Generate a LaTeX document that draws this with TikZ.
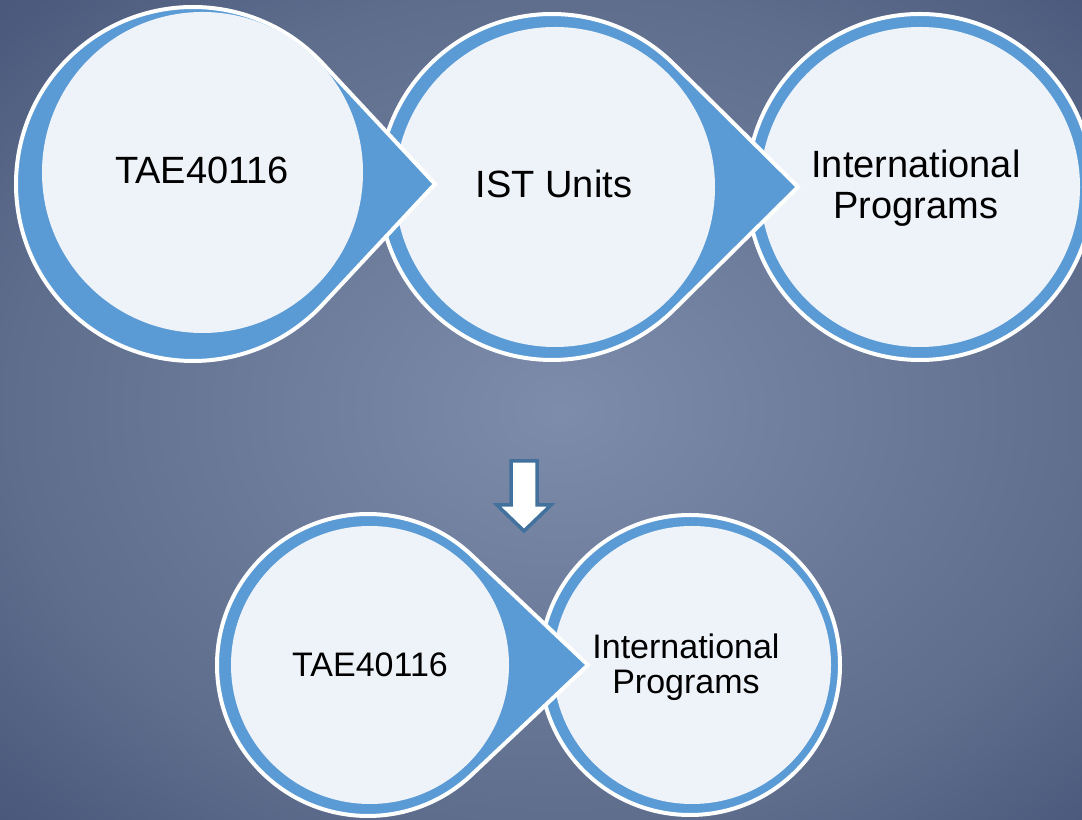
\documentclass[tikz,border=0pt]{standalone}
\usepackage{fontspec}
\setmainfont{Liberation Sans}
\definecolor{bgc}{HTML}{7D8CAB}
\definecolor{bgm}{HTML}{5E6D8C}
\definecolor{bge}{HTML}{48577A}
\definecolor{ringblue}{HTML}{5B9BD5}
\definecolor{lightfill}{HTML}{EEF3FA}
\definecolor{arrowline}{HTML}{41719C}
\pgfdeclareradialshading{bgshade}{\pgfpoint{0bp}{0bp}}{color(0bp)=(bgc); color(17.5bp)=(bgm); color(25bp)=(bge); color(50bp)=(bge)}
\newcommand\tdrop[4]{% cx cy R d
  \pgfmathsetmacro\tdth{acos(#3/#4)}
  \filldraw[ringpath] (#1+#4,#2) -- ({#1+#3*cos(\tdth)},{#2+#3*sin(\tdth)})
    arc[start angle=\tdth, end angle=360-\tdth, radius=#3 bp] -- cycle;}
\begin{document}
\begin{tikzpicture}[x=1bp,y=1bp,
  ringpath/.style={draw=white, line width=4bp, fill=ringblue, line join=miter},
  disc/.style={circle, fill=lightfill, draw=none, inner sep=0pt},
  bigtxt/.style={inner sep=0pt, align=center, text=black, font=\fontsize{38bp}{41bp}\selectfont},
  smalltxt/.style={inner sep=0pt, align=center, text=black, font=\fontsize{34bp}{35bp}\selectfont},
  downarrow/.style={draw=arrowline, fill=white, line width=3.5bp, line join=miter}]
\useasboundingbox (0,0) rectangle (1082,820);
\begin{scope}
  \clip (0,0) rectangle (1082,820);
  \fill[bge] (0,0) rectangle (1082,820);
  \shade[shading=bgshade] (560,410) ellipse [x radius=790bp, y radius=600bp];

  % top row: circle 3
  \filldraw[ringpath] (920,633) circle[radius=173bp];
  \node[disc, minimum size=320bp] (d3) at (920,633) {};
  % circle 2
  \tdrop{552}{633}{173}{246}
  \node[disc, minimum size=320bp] (d2) at (555,633) {};
  % circle 1
  \tdrop{193}{636}{177}{242}
  \node[disc, minimum size=321bp] (d1) at (202.5,647.5) {};

  % bottom row: circle 5
  \filldraw[ringpath] (690,155) circle[radius=150bp];
  \node[disc, minimum size=278bp] (d5) at (692,155) {};
  % circle 4
  \tdrop{368}{155}{151}{220}
  \node[disc, minimum size=278bp] (d4) at (370,155) {};
\end{scope}

% texts
\node[bigtxt] (t1) at (202,650) {TAE40116};
\node[bigtxt] (t2) at (554,636) {IST Units};
\node[bigtxt] (t3) at (916,632) {International\\Programs};
\node[smalltxt] (t4) at (370,155) {TAE40116};
\node[smalltxt] (t5) at (686,153) {International\\Programs};

% down arrow
\filldraw[downarrow] (511,359) -- (537,359) -- (537,315) -- (551,315) -- (524,289)
  -- (497,315) -- (511,315) -- cycle;
\end{tikzpicture}
\end{document}
